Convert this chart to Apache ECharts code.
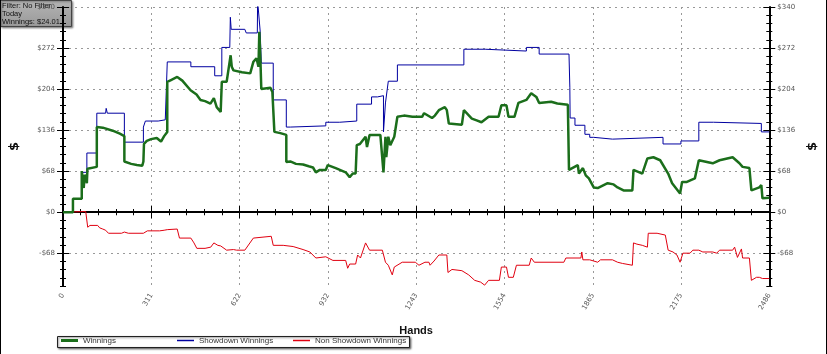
<!DOCTYPE html>
<html><head><meta charset="utf-8">
<script src="https://cdn.jsdelivr.net/npm/echarts@6/dist/echarts.min.js"></script>
<style>html,body{margin:0;padding:0;background:#fff}#c{width:827px;height:354px}</style>
</head><body><div id="c"></div>
<script>
const xTicks = [0, 311, 622, 932, 1243, 1554, 1865, 2175, 2486];
const yTicks = [-68, 0, 68, 136, 204, 272, 340];
const seriesNames = ['Winnings', 'Showdown Winnings', 'Non Showdown Winnings'];
const infoLines = ['Filter: No Filter', 'Today', 'Winnings: $24.01'];

const winnings = [[0,0],[35,0],[35,22],[66,22],[66,68],[70,55],[73,40],[76,62],[80,57],[84,48],[86,72],[92,73],[119,75],[119,141],[140,140],[175,135],[200,130],[216,126],[216,84],[240,80],[260,78],[279,77],[283,84],[285,113],[295,118],[310,121],[330,123],[345,117],[356,126],[367,133],[367,216],[380,219],[402,224],[420,218],[449,202],[470,195],[484,186],[500,184],[519,180],[531,189],[541,174],[555,166],[559,216],[576,216],[590,260],[594,241],[600,235],[630,232],[659,230],[670,249],[681,255],[688,241],[691,299],[695,250],[698,204],[730,206],[737,199],[744,133],[765,131],[786,128],[786,83],[800,84],[820,80],[845,79],[865,76],[880,74],[890,66],[904,70],[925,70],[932,78],[960,73],[995,66],[1009,58],[1020,64],[1030,64],[1034,111],[1045,113],[1065,125],[1070,108],[1079,128],[1117,128],[1124,125],[1128,66],[1135,125],[1138,91],[1145,125],[1152,111],[1166,125],[1177,158],[1200,160],[1230,158],[1264,158],[1271,164],[1299,156],[1309,160],[1323,169],[1344,174],[1351,169],[1358,147],[1404,145],[1411,169],[1439,155],[1456,152],[1473,149],[1498,158],[1533,158],[1543,177],[1561,177],[1568,158],[1589,158],[1603,181],[1631,186],[1648,197],[1666,191],[1676,181],[1718,183],[1740,180],[1777,178],[1781,70],[1788,73],[1812,78],[1816,64],[1830,73],[1840,61],[1851,56],[1868,41],[1882,40],[1917,48],[1938,46],[1952,41],[1973,36],[2004,36],[2008,70],[2039,64],[2057,89],[2078,91],[2102,86],[2130,64],[2144,48],[2172,31],[2179,50],[2196,50],[2224,56],[2238,86],[2287,81],[2311,86],[2357,91],[2381,81],[2392,75],[2416,73],[2423,36],[2451,41],[2458,45],[2462,23],[2486,24]];

const showdown = [[0,0],[35,0],[35,22],[66,22],[66,66],[84,66],[84,98],[119,98],[119,164],[150,164],[152,172],[156,164],[216,164],[216,116],[283,116],[283,141],[290,141],[290,151],[335,151],[340,154],[360,153],[367,153],[367,249],[450,249],[450,241],[534,241],[534,226],[559,226],[559,273],[587,273],[589,323],[592,303],[640,303],[645,297],[684,297],[685,350],[691,350],[694,300],[698,247],[740,247],[740,186],[786,186],[786,141],[800,141],[800,143],[925,143],[925,149],[974,149],[974,151],[1034,151],[1034,179],[1086,179],[1086,191],[1107,191],[1110,193],[1128,193],[1128,133],[1133,133],[1135,181],[1142,181],[1145,217],[1177,217],[1177,244],[1411,244],[1411,270],[1486,270],[1486,267],[1631,267],[1631,273],[1676,273],[1676,262],[1781,262],[1784,207],[1785,156],[1802,156],[1802,144],[1837,144],[1837,129],[1854,129],[1854,124],[1868,124],[1868,121],[1934,121],[1934,124],[2112,124],[2112,113],[2175,113],[2175,118],[2238,118],[2238,149],[2290,149],[2290,147],[2458,147],[2458,133],[2486,133]];

const nonShowdown = [[0,0],[80,1],[87,1],[87,-25],[95,-22],[122,-22],[129,-26],[140,-28],[150,-30],[160,-35],[206,-35],[216,-33],[230,-35],[283,-35],[297,-31],[340,-31],[356,-30],[367,-29],[402,-28],[410,-43],[450,-43],[461,-51],[471,-60],[500,-60],[520,-58],[531,-51],[545,-55],[555,-56],[576,-63],[600,-62],[611,-63],[618,-66],[640,-63],[646,-60],[670,-43],[677,-40],[733,-40],[740,-55],[775,-55],[810,-57],[845,-62],[869,-66],[890,-76],[925,-74],[950,-80],[995,-80],[1002,-93],[1009,-86],[1030,-86],[1037,-71],[1047,-76],[1065,-51],[1079,-63],[1124,-63],[1135,-83],[1145,-88],[1159,-104],[1166,-91],[1194,-83],[1240,-83],[1253,-88],[1274,-83],[1288,-83],[1292,-88],[1306,-81],[1323,-71],[1351,-71],[1355,-100],[1369,-95],[1404,-97],[1428,-104],[1449,-113],[1470,-116],[1484,-121],[1498,-113],[1536,-113],[1543,-91],[1561,-91],[1568,-108],[1585,-108],[1596,-88],[1641,-88],[1648,-76],[1659,-83],[1763,-83],[1770,-76],[1823,-76],[1826,-66],[1830,-79],[1854,-79],[1882,-83],[1892,-79],[1934,-79],[1952,-83],[1969,-85],[1973,-88],[2004,-88],[2008,-51],[2020,-53],[2039,-55],[2057,-58],[2060,-35],[2091,-35],[2120,-38],[2126,-38],[2130,-63],[2147,-66],[2161,-71],[2172,-83],[2182,-68],[2207,-68],[2217,-63],[2238,-63],[2252,-66],[2287,-66],[2301,-68],[2311,-63],[2357,-63],[2364,-58],[2374,-75],[2388,-61],[2392,-76],[2416,-76],[2423,-113],[2441,-108],[2451,-108],[2462,-110],[2486,-110]];

const FONT = 'DejaVu Sans';
const gridLine = {show: true, lineStyle: {color: '#999', width: 1, type: [2, 4]}};
const X = {type: 'value', min: 0, max: 2486, interval: 310.75};
const Y = {type: 'value', min: -122.4, max: 340, interval: 13.6};
const none = {show: false};
function yFmt(v) { return (v < 0 ? '-$' : '$') + Math.abs(Math.round(v)); }

function xAx(pos, inside, main) {
  return Object.assign({}, X, {
    position: pos,
    axisLine: main ? {show: true, lineStyle: {color: '#000', width: pos === 'bottom' ? 2 : 1.5}} : none,
    axisTick: {show: true, inside: inside, length: 6, customValues: xTicks, lineStyle: {color: '#000', width: 1}},
    minorTick: {show: true, splitNumber: 5, length: 3, lineStyle: {color: '#000', width: 1}},
    axisLabel: (main && pos === 'bottom') ? {show: true, customValues: xTicks, rotate: 60, margin: 8, fontSize: 7, color: '#555', fontFamily: FONT,
      formatter: function (v) { return String(Math.round(v)); }} : none,
    splitLine: (main && pos === 'bottom') ? gridLine : none,
    name: (main && pos === 'bottom') ? 'Hands' : '',
    nameLocation: 'middle', nameGap: 39,
    nameTextStyle: {fontSize: 11, fontWeight: 'bold', color: '#111', fontFamily: 'Liberation Sans'}
  });
}
function yMajor(pos, inside, main) {
  return Object.assign({}, Y, {
    position: pos,
    axisLine: main ? {show: true, lineStyle: {color: '#000', width: 2}} : none,
    axisTick: {show: true, inside: inside, length: 6, customValues: yTicks, lineStyle: {color: '#000', width: 1}},
    axisLabel: main ? {show: true, customValues: yTicks, margin: 8, fontSize: 7, color: '#555', fontFamily: FONT,
      formatter: function (v) { return (Math.abs(v / 68 - Math.round(v / 68)) < 1e-6) ? yFmt(v) : ''; }} : none,
    splitLine: (main && pos === 'left') ? gridLine : none,
    name: main ? '$' : '', nameLocation: 'middle', nameGap: pos === 'left' ? 42 : 34,
    nameTextStyle: {fontSize: 13, fontWeight: 'bold', color: '#111', fontFamily: FONT}
  });
}
function yMinor(pos, inside) {
  return Object.assign({}, Y, {
    position: pos, axisLine: none, axisLabel: none, splitLine: none,
    axisTick: {show: true, inside: inside, length: 3, lineStyle: {color: '#000', width: 1}}
  });
}

const chart = echarts.init(document.getElementById('c'), null, {renderer: 'canvas'});
const legendBase = {top: 336.5, padding: 0, itemWidth: 17, icon: 'rect', selectedMode: false,
  textStyle: {fontSize: 8, color: '#333', fontFamily: 'Liberation Sans'}, itemGap: 0};
chart.setOption({
  animation: false,
  backgroundColor: '#fff',
  grid: {left: 58, right: 57, top: 7, bottom: 68, containLabel: false},
  xAxis: [xAx('bottom', false, true), xAx('bottom', true, false), xAx('top', false, true), xAx('top', true, false)],
  yAxis: [yMajor('left', false, true), yMajor('left', true, false), yMinor('left', false), yMinor('left', true),
          yMajor('right', false, true), yMajor('right', true, false), yMinor('right', false), yMinor('right', true)],
  legend: [
    Object.assign({}, legendBase, {left: 61, data: [seriesNames[0]], itemHeight: 3}),
    Object.assign({}, legendBase, {left: 177, data: [seriesNames[1]], itemHeight: 1.5}),
    Object.assign({}, legendBase, {left: 293, data: [seriesNames[2]], itemHeight: 1.5})
  ],
  series: [
    {name: seriesNames[1], type: 'line', data: showdown, showSymbol: false, symbol: 'none', z: 3,
     itemStyle: {color: '#0000a0'}, lineStyle: {color: '#0000a0', width: 1}},
    {name: seriesNames[2], type: 'line', data: nonShowdown, showSymbol: false, symbol: 'none', z: 3,
     itemStyle: {color: '#e00010'}, lineStyle: {color: '#e00010', width: 1}},
    {name: seriesNames[0], type: 'line', data: winnings, showSymbol: false, symbol: 'none', z: 4,
     itemStyle: {color: '#1b6e1b'}, lineStyle: {color: '#1b6e1b', width: 2.5},
     markLine: {silent: true, symbol: 'none', label: {show: false}, z: 2,
       lineStyle: {color: '#000', width: 2, type: 'solid'}, data: [{yAxis: 0}]}}
  ],
  graphic: [
    {type: 'rect', z: 0, shape: {x: 57.5, y: 336.5, width: 352, height: 11},
     style: {fill: '#fff', stroke: '#222', lineWidth: 1, shadowBlur: 2, shadowOffsetX: 1, shadowOffsetY: 1, shadowColor: 'rgba(0,0,0,0.5)'}},
    {type: 'line', z: 100, shape: {x1: 0.5, y1: 0, x2: 0.5, y2: 354}, style: {stroke: '#000', lineWidth: 1}},
    {type: 'line', z: 100, shape: {x1: 826.5, y1: 0, x2: 826.5, y2: 354}, style: {stroke: '#000', lineWidth: 1}},
    {type: 'group', z: 100, children: [
      {type: 'rect', shape: {x: 0.5, y: 0.5, width: 71, height: 26},
       style: {fill: new echarts.graphic.LinearGradient(0, 0, 0, 1, [{offset: 0, color: '#b4b4b4'}, {offset: 1, color: '#999'}]),
               stroke: '#444', lineWidth: 1, shadowBlur: 2, shadowOffsetX: 1, shadowOffsetY: 1, shadowColor: 'rgba(0,0,0,0.4)'}},
      {type: 'text', x: 2, y: 1.5, style: {text: infoLines[0], fontSize: 7.5, fill: '#111', fontFamily: 'Liberation Sans'}},
      {type: 'text', x: 2, y: 9.5, style: {text: infoLines[1], fontSize: 7.5, fill: '#111', fontFamily: 'Liberation Sans'}},
      {type: 'text', x: 2, y: 17.5, style: {text: infoLines[2], fontSize: 7.5, fill: '#111', fontFamily: 'Liberation Sans'}}
    ]}
  ]
});
</script></body></html>
